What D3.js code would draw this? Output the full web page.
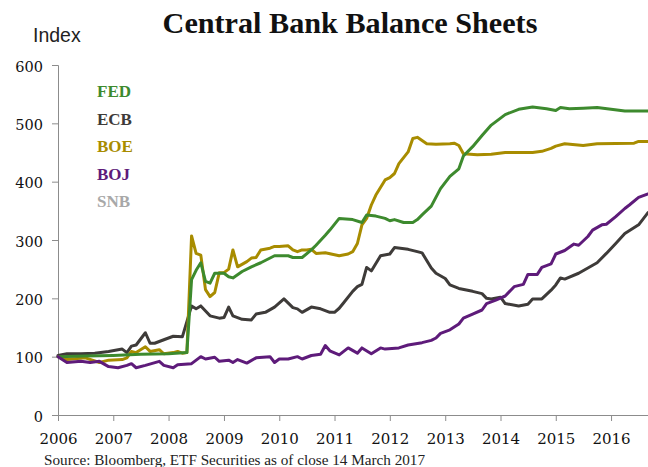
<!DOCTYPE html>
<html><head><meta charset="utf-8">
<script src="https://cdn.jsdelivr.net/npm/d3@7"></script>
<style>
html,body{margin:0;padding:0;background:#fff;}
svg{display:block;}
</style></head>
<body>
<svg id="chart" width="648" height="467"></svg>
<script>
// ---- DATA ----
const title = "Central Bank Balance Sheets";
const yLabel = "Index";
const source = "Source: Bloomberg, ETF Securities as of close 14 March 2017";
const yTicks = [0, 100, 200, 300, 400, 500, 600];
const xTickYears = [2006, 2007, 2008, 2009, 2010, 2011, 2012, 2013, 2014, 2015, 2016];
const seriesNames = ["FED", "ECB", "BOE", "BOJ", "SNB"];
const seriesColors = ["#3d8a2e", "#3e3b39", "#a88c00", "#5e1b7a", "#a8a8a8"];

const FED = [["2006-01",100],["2006-07",101],["2007-01",102],["2007-07",104],["2008-01",105],["2008-05",107],
["2008-06",232],["2008-07",248],["2008-08",261],["2008-09",229],["2008-10",226],["2008-11",243],["2009-01",243],
["2009-02",237],["2009-03",235],["2009-05",246],["2009-07",254],["2009-09",261],["2009-12",273],["2010-03",273],
["2010-04",270],["2010-06",270],["2010-08",283],["2010-09",291],["2010-11",308],["2010-12",317],["2011-02",337],
["2011-05",335],["2011-07",330],["2011-08",343],["2011-10",341],["2011-12",337],["2012-01",333],["2012-02",335],
["2012-04",330],["2012-06",330],["2012-07",335],["2012-08",343],["2012-10",358],["2012-12",388],["2013-02",409],
["2013-04",422],["2013-05",444],["2013-07",460],["2013-09",479],["2013-11",497],["2014-02",515],["2014-05",524],
["2014-08",528],["2014-11",525],["2015-01",522],["2015-02",527],["2015-04",525],["2015-07",526],["2015-10",527],
["2016-01",524],["2016-04",521],["2016-09",521]];

const ECB = [["2006-01",102],["2006-03",105],["2006-06",105],["2006-09",106],["2006-12",109],["2007-03",113],
["2007-04",107],["2007-05",118],["2007-06",120],["2007-08",141],["2007-09",123],["2007-10",123],["2007-12",129],
["2008-02",135],["2008-04",134],["2008-05",160],["2008-06",187],["2008-07",182],["2008-08",187],["2008-10",170],
["2008-12",166],["2009-01",167],["2009-02",185],["2009-03",170],["2009-05",164],["2009-07",163],["2009-08",173],
["2009-10",176],["2009-12",185],["2010-02",199],["2010-04",184],["2010-05",182],["2010-06",176],["2010-08",185],
["2010-10",182],["2010-12",176],["2011-01",176],["2011-02",183],["2011-03",192],["2011-05",212],["2011-06",220],
["2011-07",224],["2011-08",253],["2011-09",247],["2011-11",273],["2012-01",276],["2012-02",287],["2012-05",284],
["2012-07",280],["2012-08",278],["2012-10",252],["2012-11",243],["2013-01",234],["2013-02",223],["2013-04",217],
["2013-07",212],["2013-09",208],["2013-10",200],["2013-11",199],["2014-01",202],["2014-02",191],["2014-05",187],
["2014-07",190],["2014-08",199],["2014-10",199],["2014-12",214],["2015-01",223],["2015-02",235],["2015-03",233],
["2015-06",243],["2015-08",252],["2015-10",261],["2015-12",277],["2016-02",294],["2016-04",311],["2016-07",326],
["2016-09",347]];

const BOE = [["2006-01",100],["2006-03",95],["2006-07",98],["2006-10",90],["2006-12",94],["2007-03",95],
["2007-04",98],["2007-05",109],["2007-06",107],["2007-08",117],["2007-09",109],["2007-11",112],["2007-12",105],
["2008-02",107],["2008-03",109],["2008-04",106],["2008-05",107],["2008-06",307],["2008-07",277],["2008-08",274],
["2008-09",215],["2008-10",203],["2008-11",210],["2008-12",244],["2009-01",244],["2009-02",250],["2009-03",283],
["2009-04",254],["2009-06",263],["2009-07",269],["2009-08",270],["2009-09",283],["2009-11",286],["2009-12",289],
["2010-01",289],["2010-03",290],["2010-04",283],["2010-05",280],["2010-06",283],["2010-07",283],["2010-08",284],
["2010-09",277],["2010-11",278],["2011-02",273],["2011-04",276],["2011-05",280],["2011-06",294],["2011-07",326],
["2011-08",337],["2011-09",360],["2011-10",377],["2011-12",403],["2012-01",407],["2012-02",414],["2012-03",431],
["2012-05",451],["2012-06",474],["2012-07",476],["2012-09",465],["2012-11",464],["2013-02",465],["2013-03",466],
["2013-04",462],["2013-05",448],["2013-08",446],["2013-11",447],["2014-02",450],["2014-08",450],["2014-10",452],
["2014-12",457],["2015-01",461],["2015-03",465],["2015-07",462],["2015-10",465],["2016-06",466],["2016-07",469],
["2016-09",469]];

const BOJ = [["2006-01",100],["2006-03",90],["2006-06",92],["2006-08",90],["2006-10",92],["2006-12",83],
["2007-02",81],["2007-04",85],["2007-05",88],["2007-06",81],["2007-08",85],["2007-11",92],["2007-12",85],
["2008-02",81],["2008-03",86],["2008-06",88],["2008-08",100],["2008-09",96],["2008-11",99],["2008-12",92],
["2009-02",94],["2009-03",90],["2009-04",95],["2009-06",89],["2009-08",98],["2009-11",100],["2009-12",90],
["2010-01",96],["2010-03",96],["2010-05",100],["2010-06",96],["2010-08",102],["2010-10",104],["2010-11",119],
["2010-12",110],["2011-02",103],["2011-04",115],["2011-06",106],["2011-07",115],["2011-09",105],["2011-11",115],
["2011-12",113],["2012-03",115],["2012-05",120],["2012-08",124],["2012-10",128],["2012-11",132],["2012-12",140],
["2013-02",146],["2013-04",156],["2013-05",166],["2013-07",173],["2013-09",180],["2013-10",191],["2013-12",197],
["2014-02",204],["2014-04",220],["2014-06",224],["2014-07",241],["2014-09",241],["2014-10",253],["2014-12",259],
["2015-01",276],["2015-03",282],["2015-05",293],["2015-06",291],["2015-08",306],["2015-09",317],["2015-11",326],
["2015-12",327],["2016-02",340],["2016-04",354],["2016-05",360],["2016-07",373],["2016-09",379]];

const SNB = []; // listed in legend, no visible line
const seriesData = [FED, ECB, BOE, BOJ, SNB];

// ---- CHART ----
const svg = d3.select("#chart");
const parse = d3.timeParse("%Y-%m");
const margin = {left: 58, right: 0, top: 65, bottom: 52};
const W = 648, H = 467;

const x = d3.scaleTime()
  .domain([parse("2006-01"), parse("2016-09")])
  .range([margin.left, W - margin.right]);
const y = d3.scaleLinear().domain([0, 600]).range([H - margin.bottom, margin.top]);

const serif = "'DejaVu Serif', serif";
const axisColor = "#8c8c8c";

// Title
const t = svg.append("text").attr("x", 350).attr("y", 33).attr("text-anchor", "middle")
  .attr("font-family", "'Liberation Serif', serif").attr("font-weight", "bold")
  .attr("font-size", 26).attr("fill", "#111").text(title);
(function fit(el, target){ const w = el.node().getComputedTextLength(); const fs = 26 * target / w; el.attr("font-size", fs.toFixed(2)); })(t, 375);

// y label
svg.append("text").attr("x", 33).attr("y", 42)
  .attr("font-family", "'Liberation Sans', Arial, sans-serif").attr("font-size", 19.5)
  .attr("fill", "#222").text(yLabel);

// Y axis
const yAxis = d3.axisLeft(y).tickValues(yTicks).tickSize(6).tickSizeOuter(6).tickPadding(9);
const gy = svg.append("g").attr("transform", `translate(${margin.left},0)`).call(yAxis);
gy.select(".domain").attr("stroke", axisColor);
gy.selectAll(".tick line").attr("stroke", axisColor);
gy.selectAll(".tick text").attr("font-family", serif).attr("font-size", 14.5).attr("fill", "#111").attr("dy", "0.42em");

// X axis
const xAxis = d3.axisBottom(x).tickValues(xTickYears.map(yy => new Date(yy, 0, 1)))
  .tickFormat(d3.timeFormat("%Y")).tickSize(6).tickSizeOuter(0).tickPadding(12);
const gx = svg.append("g").attr("transform", `translate(0,${H - margin.bottom})`).call(xAxis);
gx.select(".domain").attr("stroke", axisColor);
gx.selectAll(".tick line").attr("stroke", axisColor);
gx.selectAll(".tick text").attr("font-family", serif).attr("font-size", 15).attr("fill", "#111");

// Lines
const line = d3.line().x(d => x(parse(d[0]))).y(d => y(d[1]));
const drawOrder = [1, 2, 0, 3];
drawOrder.forEach(i => {
  if (!seriesData[i].length) return;
  svg.append("path").datum(seriesData[i])
    .attr("fill", "none").attr("stroke", seriesColors[i])
    .attr("stroke-width", 3).attr("stroke-linejoin", "round").attr("stroke-linecap", "round")
    .attr("d", line);
});

// Legend
seriesNames.forEach((n, i) => {
  svg.append("text").attr("x", 97).attr("y", 97 + i * 27.5)
    .attr("font-family", "'Liberation Serif', serif").attr("font-weight", "bold")
    .attr("font-size", 17).attr("fill", seriesColors[i]).text(n);
});

// Source
const s = svg.append("text").attr("x", 44).attr("y", 465)
  .attr("font-family", "'Liberation Serif', serif").attr("font-size", 13)
  .attr("fill", "#222").text(source);
(function fit(el, target){ const w = el.node().getComputedTextLength(); const fs = 13 * target / w; el.attr("font-size", fs.toFixed(2)); })(s, 381);
</script>
</body></html>
